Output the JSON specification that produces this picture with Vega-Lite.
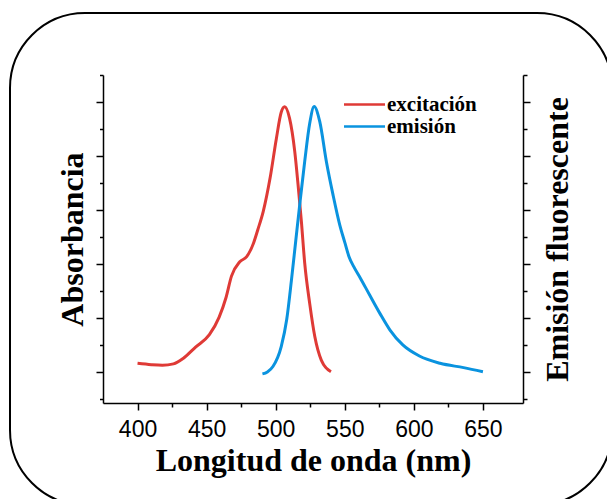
{
  "$schema": "https://vega.github.io/schema/vega-lite/v6.json",
  "width": 602,
  "height": 492,
  "padding": {"left": 10, "top": 13, "right": 0, "bottom": 0},
  "autosize": {"type": "pad"},
  "background": "white",
  "view": {"stroke": "black", "strokeWidth": 2, "cornerRadius": 75, "fill": "white"},
  "config": {
    "axis": {
      "domainColor": "black",
      "domainWidth": 1.5,
      "tickColor": "black",
      "tickWidth": 1.5,
      "grid": false,
      "titleFont": "Liberation Serif",
      "titleFontWeight": "bold",
      "titleFontSize": 32,
      "titleColor": "black",
      "labelFont": "Liberation Sans",
      "labelFontSize": 23,
      "labelColor": "black"
    },
    "legend": {
      "labelFont": "Liberation Serif",
      "labelFontWeight": "bold",
      "labelFontSize": 21,
      "labelColor": "black"
    }
  },
  "data": {
    "values": [
      {"nm": 400, "valor": 1.32, "serie": "excitación"},
      {"nm": 410, "valor": 1.27, "serie": "excitación"},
      {"nm": 418, "valor": 1.25, "serie": "excitación"},
      {"nm": 426, "valor": 1.3, "serie": "excitación"},
      {"nm": 433, "valor": 1.5, "serie": "excitación"},
      {"nm": 442, "valor": 1.92, "serie": "excitación"},
      {"nm": 452, "valor": 2.38, "serie": "excitación"},
      {"nm": 459, "valor": 3.02, "serie": "excitación"},
      {"nm": 464, "valor": 3.75, "serie": "excitación"},
      {"nm": 468, "valor": 4.55, "serie": "excitación"},
      {"nm": 474, "valor": 5.08, "serie": "excitación"},
      {"nm": 479, "valor": 5.27, "serie": "excitación"},
      {"nm": 484, "valor": 5.78, "serie": "excitación"},
      {"nm": 487, "valor": 6.26, "serie": "excitación"},
      {"nm": 491, "valor": 6.95, "serie": "excitación"},
      {"nm": 496, "valor": 8.2, "serie": "excitación"},
      {"nm": 500.5, "valor": 9.65, "serie": "excitación"},
      {"nm": 504, "valor": 10.62, "serie": "excitación"},
      {"nm": 506.5, "valor": 10.82, "serie": "excitación"},
      {"nm": 510, "valor": 10.4, "serie": "excitación"},
      {"nm": 513.8, "valor": 9.16, "serie": "excitación"},
      {"nm": 516.2, "valor": 7.93, "serie": "excitación"},
      {"nm": 518.6, "valor": 6.57, "serie": "excitación"},
      {"nm": 521, "valor": 5.03, "serie": "excitación"},
      {"nm": 524.6, "valor": 3.54, "serie": "excitación"},
      {"nm": 528.3, "valor": 2.31, "serie": "excitación"},
      {"nm": 533, "valor": 1.44, "serie": "excitación"},
      {"nm": 540, "valor": 1.01, "serie": "excitación"},
      {"nm": 490.4, "valor": 0.93, "serie": "emisión"},
      {"nm": 494, "valor": 1.0, "serie": "emisión"},
      {"nm": 498, "valor": 1.2, "serie": "emisión"},
      {"nm": 504, "valor": 1.94, "serie": "emisión"},
      {"nm": 508, "valor": 2.95, "serie": "emisión"},
      {"nm": 511.4, "valor": 4.4, "serie": "emisión"},
      {"nm": 514.5, "valor": 5.85, "serie": "emisión"},
      {"nm": 517.4, "valor": 7.2, "serie": "emisión"},
      {"nm": 521, "valor": 8.8, "serie": "emisión"},
      {"nm": 524.6, "valor": 10.2, "serie": "emisión"},
      {"nm": 527.8, "valor": 10.83, "serie": "emisión"},
      {"nm": 531.9, "valor": 10.27, "serie": "emisión"},
      {"nm": 536.7, "valor": 8.79, "serie": "emisión"},
      {"nm": 541.5, "valor": 7.56, "serie": "emisión"},
      {"nm": 546.4, "valor": 6.44, "serie": "emisión"},
      {"nm": 550, "valor": 5.8, "serie": "emisión"},
      {"nm": 553, "valor": 5.28, "serie": "emisión"},
      {"nm": 556.5, "valor": 4.9, "serie": "emisión"},
      {"nm": 561, "valor": 4.5, "serie": "emisión"},
      {"nm": 568, "valor": 3.85, "serie": "emisión"},
      {"nm": 575.4, "valor": 3.17, "serie": "emisión"},
      {"nm": 582.6, "valor": 2.56, "serie": "emisión"},
      {"nm": 592, "valor": 2.0, "serie": "emisión"},
      {"nm": 604, "valor": 1.59, "serie": "emisión"},
      {"nm": 619, "valor": 1.32, "serie": "emisión"},
      {"nm": 636, "valor": 1.16, "serie": "emisión"},
      {"nm": 650, "valor": 1.01, "serie": "emisión"}
    ]
  },
  "encoding": {
    "x": {
      "field": "nm",
      "type": "quantitative",
      "scale": {"domain": [375, 679], "range": [93, 513], "nice": false, "zero": false},
      "axis": {
        "title": "Longitud de onda (nm)",
        "offset": -102,
        "values": [400, 425, 450, 475, 500, 525, 550, 575, 600, 625, 650],
        "labelExpr": "datum.value % 50 === 0 ? datum.label : ''",
        "tickSize": {"condition": {"test": "datum.value % 50 === 0", "value": 7}, "value": 4},
        "labelPadding": 8,
        "titlePadding": 4
      }
    },
    "color": {
      "field": "serie",
      "type": "nominal",
      "scale": {"domain": ["excitación", "emisión"], "range": ["#df3a36", "#0a93df"]},
      "legend": {
        "title": null,
        "orient": "none",
        "legendX": 344,
        "legendY": 81,
        "padding": 0,
        "symbolType": "M-4,0H4",
        "symbolSize": 105,
        "symbolStrokeWidth": 2.5,
        "symbolOffset": 0,
        "labelOffset": 12,
        "rowPadding": 0
      }
    }
  },
  "layer": [
    {
      "transform": [{"filter": "datum.serie === 'excitación'"}],
      "mark": {"type": "line", "interpolate": "monotone", "strokeWidth": 3},
      "encoding": {
        "y": {
          "field": "valor",
          "type": "quantitative",
          "scale": {"domain": [-0.15, 12], "range": [390, 62], "nice": false, "zero": false},
          "axis": {
            "title": "Absorbancia",
            "orient": "left",
            "offset": -93,
            "values": [0, 1, 2, 3, 4, 5, 6, 7, 8, 9, 10, 11, 12],
            "labels": false,
            "tickSize": {"condition": {"test": "datum.value % 2 === 1", "value": 7}, "value": 3.5},
            "titlePadding": 6
          }
        }
      }
    },
    {
      "transform": [{"filter": "datum.serie === 'emisión'"}],
      "mark": {"type": "line", "interpolate": "monotone", "strokeWidth": 3},
      "encoding": {
        "y": {
          "field": "valor",
          "type": "quantitative",
          "scale": {"domain": [-0.15, 12], "range": [390, 62], "nice": false, "zero": false},
          "axis": {
            "title": "Emisión fluorescente",
            "orient": "right",
            "offset": -89,
            "values": [0, 1, 2, 3, 4, 5, 6, 7, 8, 9, 10, 11, 12],
            "labels": false,
            "tickSize": {"condition": {"test": "datum.value % 2 === 1", "value": 7}, "value": 4},
            "titleAngle": -90,
            "titleBaseline": "top",
            "titlePadding": 12
          }
        }
      }
    }
  ],
  "resolve": {"scale": {"y": "independent"}, "axis": {"y": "independent"}}
}
